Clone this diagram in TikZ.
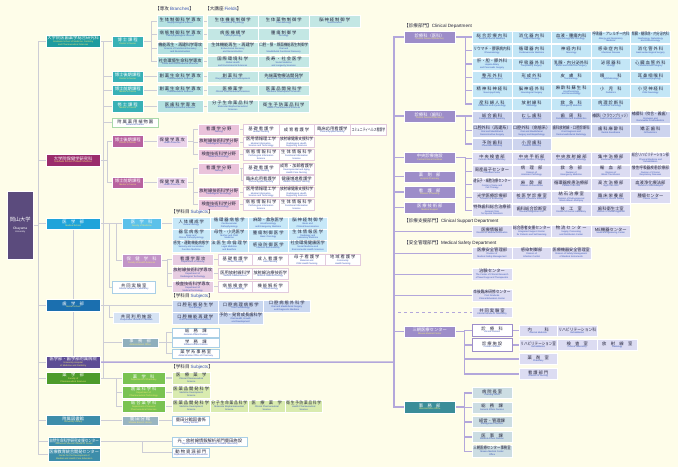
\documentclass[tikz,border=0pt]{standalone}
\usepackage{fontspec}
\usepackage{graphicx}
\setmainfont{Liberation Sans}
\newfontfamily\jpfont{Noto Sans CJK JP}
\usetikzlibrary{backgrounds}

\definecolor{bgc}{HTML}{FEFDE9}
\definecolor{lnc}{HTML}{CDCDD6}
\definecolor{hlc}{HTML}{B3A7DB}
\definecolor{jdark}{HTML}{22223A}
\definecolor{enblue}{HTML}{3452B4}
\definecolor{enyel}{HTML}{F4EC78}
\definecolor{okac}{HTML}{5B4B7D}
\definecolor{gtc}{HTML}{1E9B9F}
\definecolor{gtl}{HTML}{38B1B6}
\definecolor{gtp}{HTML}{B4E1E1}
\definecolor{gtf}{HTML}{C3E7E4}
\definecolor{ghc}{HTML}{9B2C6C}
\definecolor{ghl}{HTML}{B8629F}
\definecolor{ghp}{HTML}{EAD3EA}
\definecolor{gha}{HTML}{EAC3DB}
\definecolor{ghb}{HTML}{E3CBDD}
\definecolor{mdc}{HTML}{1FA3DA}
\definecolor{mdl}{HTML}{5CC1EA}
\definecolor{mdp}{HTML}{C7E8F8}
\definecolor{hsc}{HTML}{C294C8}
\definecolor{hsp}{HTML}{E7CDE2}
\definecolor{dtc}{HTML}{1B6FAF}
\definecolor{dtp}{HTML}{C9D7F0}
\definecolor{dtl}{HTML}{D6E3F4}
\definecolor{adc}{HTML}{8FAFBD}
\definecolor{hpc}{HTML}{5D4D95}
\definecolor{phc}{HTML}{4D9B2B}
\definecolor{phl}{HTML}{7AC351}
\definecolor{php}{HTML}{D9EBAF}
\definecolor{lbc}{HTML}{3D8DAA}
\definecolor{lbl}{HTML}{99B5C1}
\definecolor{wbd}{HTML}{A9CFE6}
\definecolor{bgb}{HTML}{A9D9A9}
\definecolor{cdc}{HTML}{9D8DC9}
\definecolor{cmp}{HTML}{C3E6F6}
\definecolor{cdp}{HTML}{CDD4EE}
\definecolor{ccp}{HTML}{DCDCF2}
\definecolor{aoc}{HTML}{3A8D99}
\definecolor{aop}{HTML}{CCDDE3}

\newsavebox\fitbox
\newlength\fitlen
\newcommand{\fitwidth}[2]{\setlength\fitlen{#1pt}\addtolength\fitlen{-2.4pt}\sbox\fitbox{#2}\ifdim\wd\fitbox>\fitlen\resizebox{\fitlen}{\height}{\usebox\fitbox}\else\usebox\fitbox\fi}
\newcommand{\jpf}{\jpfont\fontsize{4.3}{4.8}\selectfont}
\newcommand{\enf}{\rmfamily\fontsize{2.3}{2.6}\selectfont}
\newcommand{\orgtext}[3]{\fitwidth{#1}{\jpf\color{jcol}#2}\if\relax\detokenize{#3}\relax\else\\\fitwidth{#1}{\enf\color{ecol}\begin{tabular}{@{}c@{}}#3\end{tabular}}\fi}
\newcommand{\orgcell}[7]{\node[#1, minimum width=#4pt, minimum height=#5pt] (#2) at (#3) {\orgtext{#4}{#6}{#7}};}

\tikzset{
  cellbox/.style={anchor=north west, inner sep=0pt, align=center, font=\fontsize{2.3}{3}\selectfont,
    execute at begin node={\colorlet{jcol}{jdark}\colorlet{ecol}{enblue}}},
  palebox/.style={cellbox, fill=#1, draw=white, line width=0.5pt},
  darkbox/.style={cellbox, fill=#1, draw=white, line width=0.4pt,
    execute at begin node={\colorlet{jcol}{white}\colorlet{ecol}{enyel}}},
  whitebox/.style={cellbox, fill=white, draw=#1, line width=0.6pt},
  hdtext/.style={anchor=west, inner sep=0pt, text=jdark, font=\jpfont\fontsize{4.6}{5}\selectfont},
  linkline/.style={draw=lnc, line width=1.2pt},
  hospline/.style={draw=hlc, line width=1.5pt}
}

\begin{document}
\begin{tikzpicture}[x=1pt,y=-1pt]
	\useasboundingbox (0,0) rectangle (678,467);
	\begin{scope}[on background layer]
	\fill[bgc] (0,0) rectangle (678,467);
	\end{scope}

	% university and faculties
	\node[darkbox=okac, minimum width=26pt, minimum height=68pt, execute at begin node={\colorlet{ecol}{white}}] (okadai) at (7,191) {\jpfont\fontsize{5.2}{6}\selectfont\color{jcol}岡山大学\\[5pt]\rmfamily\fontsize{3.3}{4}\selectfont\color{ecol}Okayama\\\color{ecol}University};
	\orgcell{darkbox=gtc}{gsmdp}{46,35}{54}{12}{大学院医歯薬学総合研究科}{Graduate School of Medicine, Dentistry\\and Pharmaceutical Sciences}
	\orgcell{darkbox=ghc}{gshs}{46,154}{54}{12}{大学院保健学研究科}{Graduate School of Health Sciences}
	\orgcell{darkbox=mdc}{med}{46,218}{54}{11}{医　学　部}{Medical School}
	\orgcell{darkbox=dtc}{dent}{46,299}{54}{12}{歯　学　部}{Dental School}
	\orgcell{darkbox=hpc}{hosp}{46,356}{54}{12}{医学部・歯学部附属病院}{University Hospital\\of Medicine and Dentistry}
	\orgcell{darkbox=phc}{pharm}{46,372}{54}{12}{薬　学　部}{Faculty of\\Pharmaceutical Sciences}
	\orgcell{darkbox=lbc}{lib}{46,415}{54}{10}{附属図書館}{University Library}
	\orgcell{darkbox=lbc}{asrc}{48,437}{52}{9}{自然生命科学研究支援センター}{Advanced Science Research Center}
	\orgcell{darkbox=lbc}{cdme}{48,448}{52}{13}{医療教育統合開発センター}{Center for the Development of\\Medical and Health Care Education}

	% graduate school of medicine, dentistry and pharmaceutical sciences
	\node[hdtext] (hdbr) at (155,9) {【専攻 {\rmfamily\color{enblue}Branches}】};
	\node[hdtext] (hdfd) at (205,9) {【大講座 {\rmfamily\color{enblue}Fields}】};
	\orgcell{darkbox=gtl}{dca}{112,36}{31}{11}{博 士 課 程}{Doctor's Course}
	\orgcell{darkbox=gtl}{dcb}{112,71}{31}{11}{博士後期課程}{Doctor's Course}
	\orgcell{darkbox=gtl}{mca}{112,85}{31}{10}{博士前期課程}{Master's Course}
	\orgcell{darkbox=gtl}{mcb}{112,100}{31}{12}{修 士 課 程}{Master's Course}
	\orgcell{whitebox=bgb}{bgdn}{112,118}{46}{9}{附 属 薬 用 植 物 園}{Botanical Garden}
	\orgcell{palebox=gtp}{br1}{157,15}{46}{12}{生 体 制 御 科 学 専 攻}{Biophysiological Science}
	\orgcell{palebox=gtp}{br2}{157,28}{46}{12}{病 態 制 御 科 学 専 攻}{Pathophysiological Science}
	\orgcell{palebox=gtp}{br3}{157,42}{46}{12}{機能再生・再建科学専攻}{Science of Functional Recovery\\and Reconstruction}
	\orgcell{palebox=gtp}{br4}{157,56}{46}{11}{社会環境生命科学専攻}{Social and Environmental Sciences}
	\orgcell{palebox=gtp}{br5}{157,71}{46}{11}{創 薬 生 命 科 学 専 攻}{Pharmaceutical Sciences}
	\orgcell{palebox=gtp}{br6}{157,85}{46}{10}{創 薬 生 命 科 学 専 攻}{Pharmaceutical Sciences}
	\orgcell{palebox=gtp}{br7}{157,100}{46}{12}{医 歯 科 学 専 攻}{Medical and Dental Sciences}
	\orgcell{palebox=gtf}{fa1}{207,15}{51}{12}{生 体 機 能 制 御 学}{Functional Physiology}
	\orgcell{palebox=gtf}{fa2}{258,15}{51}{12}{生 体 薬 物 制 御 学}{Pharmacology}
	\orgcell{palebox=gtf}{fa3}{309,15}{51}{12}{脳 神 経 制 御 学}{Neuroscience}
	\orgcell{palebox=gtf}{fb1}{207,28}{51}{12}{病 態 機 構 学}{Pathophysiology}
	\orgcell{palebox=gtf}{fb2}{258,28}{51}{12}{腫 瘍 制 御 学}{Oncology}
	\orgcell{palebox=gtf}{fc1}{207,42}{51}{12}{生体機能再生・再建学}{Biofunctional Recovery\\and Reconstruction}
	\orgcell{palebox=gtf}{fc2}{258,42}{51}{12}{口腔・顎・顔面機能再生制御学}{Oral and\\Maxillofacial Functional Recovery}
	\orgcell{palebox=gtf}{fd1}{207,56}{51}{11}{国 際 環 境 科 学}{Global Health\\and Environmental Sciences}
	\orgcell{palebox=gtf}{fd2}{258,56}{51}{11}{長 寿 ・ 社 会 医 学}{Social Medicine\\and Longevity Sciences}
	\orgcell{palebox=gtf}{fe1}{207,71}{51}{11}{創 薬 科 学}{Drug Discovery and Development}
	\orgcell{palebox=gtf}{fe2}{258,71}{51}{11}{先端薬物療法開発学}{Advanced Pharmacotherapeutics}
	\orgcell{palebox=gtf}{ff1}{207,85}{51}{10}{医 療 薬 学}{Clinical Pharmaceutical Sciences}
	\orgcell{palebox=gtf}{ff2}{258,85}{51}{10}{医 薬 品 開 発 科 学}{Medicine Development Sciences}
	\orgcell{palebox=gtf}{fg1}{207,100}{51}{12}{分 子 生 命 薬 品 科 学}{Molecular Biopharmaceutical\\Sciences}
	\orgcell{palebox=gtf}{fg2}{258,100}{51}{12}{衛 生 予 防 薬 品 科 学}{Health Pharmaceutical Sciences}

	% graduate school of health sciences
	\orgcell{darkbox=ghl}{dch}{112,135}{31}{12}{博士後期課程}{Doctor's Course}
	\orgcell{darkbox=ghl}{mch}{112,177}{31}{11}{博士前期課程}{Master's Course}
	\orgcell{palebox=ghp}{hsd}{157,135}{30}{12}{保 健 学 専 攻}{Health Sciences}
	\orgcell{palebox=ghp}{hsm}{157,177}{30}{11}{保 健 学 専 攻}{Health Sciences}
	\orgcell{palebox=gha}{ana}{198,124}{41}{11}{看 護 学 分 野}{Nursing}
	\orgcell{palebox=gha}{ara}{198,137}{41}{10}{放射線技術科学分野}{Radiological Technology}
	\orgcell{palebox=gha}{ama}{198,149}{41}{11}{検査技術科学分野}{Medical Technology}
	\orgcell{palebox=gha}{anb}{198,163}{41}{11}{看 護 学 分 野}{Nursing}
	\orgcell{palebox=gha}{arb}{198,187}{41}{10}{放射線技術科学分野}{Radiological Technology}
	\orgcell{palebox=gha}{amb}{198,199}{41}{11}{検査技術科学分野}{Medical Technology}
	\orgcell{whitebox=ghb}{na1}{243,124}{35.5}{11}{基 礎 看 護 学}{Human Nursing}
	\orgcell{whitebox=ghb}{na2}{278.5,124}{35.5}{11}{成 育 看 護 学}{}
	\orgcell{whitebox=ghb}{na3}{314,124}{36}{11}{臨床応用看護学}{Clinical Applied Nursing}
	\orgcell{whitebox=ghb}{na4}{350,124}{36}{11}{コミュニティヘルス看護学}{}
	\orgcell{whitebox=ghb}{ra1}{243,137}{35.5}{10}{医用情報理工学}{Medical Informatics,\\Science and Technology}
	\orgcell{whitebox=ghb}{ra2}{278.5,137}{35.5}{10}{放射線健康支援科学}{Radiological Health\\Supporting Sciences}
	\orgcell{whitebox=ghb}{ma1}{243,149}{35.5}{11}{病 態 情 報 科 学}{Pathological Information\\Science}
	\orgcell{whitebox=ghb}{ma2}{278.5,149}{35.5}{11}{生 体 情 報 科 学}{Functional Information\\Science}
	\orgcell{whitebox=ghb}{nb1}{243,163}{35.5}{11}{基 礎 看 護 学}{Human Nursing}
	\orgcell{whitebox=ghb}{nb2}{278.5,163}{35.5}{11}{成育・加齢看護学}{Developmental and Aging\\Health Care Nursing}
	\orgcell{whitebox=ghb}{nb3}{243,175}{35.5}{10}{臨床応用看護学}{Clinical Applied Nursing}
	\orgcell{whitebox=ghb}{nb4}{278.5,175}{35.5}{10}{健康増進看護学}{Health Promotion Nursing}
	\orgcell{whitebox=ghb}{rb1}{243,187}{35.5}{10}{医用情報理工学}{Medical Informatics,\\Science and Technology}
	\orgcell{whitebox=ghb}{rb2}{278.5,187}{35.5}{10}{放射線健康支援科学}{Radiological Health\\Supporting Sciences}
	\orgcell{whitebox=ghb}{mb1}{243,199}{35.5}{11}{病 態 情 報 科 学}{Pathological Information\\Science}
	\orgcell{whitebox=ghb}{mb2}{278.5,199}{35.5}{11}{生 体 情 報 科 学}{Functional Information\\Science}

	% medical school
	\node[hdtext] (hdms) at (171,212) {【学科目 {\rmfamily\color{enblue}Subjects}】};
	\orgcell{darkbox=mdl}{fom}{122,218}{39}{11}{医　学　科}{Faculty of Medicine}
	\orgcell{darkbox=hsc}{fhs}{122,254}{39}{13}{保　健　学　科}{Faculty of Health Sciences}
	\orgcell{whitebox=wbd}{crla}{112,281}{43}{12}{共 同 実 験 室}{Central Research Laboratory}
	\orgcell{palebox=mdp}{ms11}{172,217}{38}{11.5}{人 体 構 成 学}{Human Biology}
	\orgcell{palebox=mdp}{ms12}{210,217}{38}{11.5}{循 環 器 病 態 学}{Cardiovascular\\Pathophysiology}
	\orgcell{palebox=mdp}{ms13}{248,217}{40}{11.5}{麻酔・救急医学}{Anesthesiology\\and Emergency Medicine}
	\orgcell{palebox=mdp}{ms14}{288,217}{39}{11.5}{脳 神 経 制 御 学}{Basic and\\Clinical Neuroscience}
	\orgcell{palebox=mdp}{ms21}{172,228.5}{38}{11.5}{器 官 病 態 学}{Basic and\\Clinical Pathophysiology}
	\orgcell{palebox=mdp}{ms22}{210,228.5}{38}{11.5}{母性・小児医学}{Mother and Child\\Medicine}
	\orgcell{palebox=mdp}{ms23}{248,228.5}{40}{11.5}{腫 瘍 制 御 医 学}{Basic Oncology}
	\orgcell{palebox=mdp}{ms24}{288,228.5}{39}{11.5}{生 体 情 報 医 学}{Radiology and\\Laboratory Medicine}
	\orgcell{palebox=mdp}{ms31}{172,240}{38}{12}{感覚・運動機能病態学}{Sensory and Locomotive\\Function Medicine}
	\orgcell{palebox=mdp}{ms32}{210,240}{38}{12}{法 医 生 命 倫 理 学}{Legal Medicine\\and Bioethics}
	\orgcell{palebox=mdp}{ms33}{248,240}{40}{12}{感 染 防 御 医 学}{Infection and Immunity}
	\orgcell{palebox=mdp}{ms34}{288,240}{39}{12}{社会環境健康医学}{Social Medicine and\\Environmental Health Sciences}
	\orgcell{palebox=hsp}{hna}{172,254}{41}{11}{看 護 学 専 攻}{Department of Nursing}
	\orgcell{palebox=hsp}{hra}{172,267}{41}{12}{放射線技術科学専攻}{Department of\\Radiological Technology}
	\orgcell{palebox=hsp}{hma}{172,281}{41}{11}{検査技術科学専攻}{Department of\\Medical Technology}
	\orgcell{whitebox=ghb}{hn1}{218,254}{34}{11}{基 礎 看 護 学}{Human Nursing}
	\orgcell{whitebox=ghb}{hn2}{252,254}{36}{11}{成 人 看 護 学}{Adult Nursing}
	\orgcell{whitebox=ghb}{hn3}{288,254}{37}{11}{母 子 看 護 学}{Maternal and\\Child Health Nursing}
	\orgcell{whitebox=ghb}{hn4}{325,254}{35}{11}{地 域 看 護 学}{Community\\Health Nursing}
	\orgcell{whitebox=ghb}{hr1}{218,268}{34}{11}{医用放射線科学}{Medical Radiosciences}
	\orgcell{whitebox=ghb}{hr2}{252,268}{36}{11}{放射線治療技術学}{Medical Radiotechnology}
	\orgcell{whitebox=ghb}{hm1}{218,281}{34}{11}{病 態 検 査 学}{Clinical Pathology}
	\orgcell{whitebox=ghb}{hm2}{252,281}{36}{11}{機 能 解 析 学}{Clinical Biology}

	% dental school
	\node[hdtext] (hdds) at (171,296) {【学科目 {\rmfamily\color{enblue}Subjects}】};
	\orgcell{palebox=dtl}{crf}{113,312}{46}{11}{共 同 利 用 施 設}{Cooperative Research Facilities}
	\orgcell{palebox=dtp}{ds11}{172,300}{46}{12}{口 腔 形 態 発 生 学}{Oral Biology}
	\orgcell{palebox=dtp}{ds12}{218,300}{45}{12}{口 腔 病 理 病 態 学}{Oral Pathobiology}
	\orgcell{palebox=dtp}{ds13}{263,300}{47}{12}{口 腔 病 態 外 科 学}{Oral and Maxillofacial Surgery\\and Diagnostic Medicine}
	\orgcell{palebox=dtp}{ds21}{172,312}{46}{12}{口 腔 機 能 再 建 学}{Oral Functional Reconstruction}
	\orgcell{palebox=dtp}{ds22}{218,312}{45}{12}{予防・発育成長歯科学}{Oral Health, Growth\\and Development}
	\orgcell{darkbox=adc}{admo}{122,338}{36}{8.5}{事　務　部}{Administration Office}
	\orgcell{whitebox=wbd}{gad1}{172,328}{47}{8.5}{総　務　課}{General Affairs Division}
	\orgcell{whitebox=wbd}{sad}{172,338}{47}{9}{学　務　課}{Student Affairs Division}
	\orgcell{whitebox=wbd}{pao}{172,349}{47}{8.5}{薬 学 系 事 務 室}{Administrative Office of Pharmacy}

	% pharmacy, library, centers
	\node[hdtext] (hdps) at (171,367) {【学科目 {\rmfamily\color{enblue}Subjects}】};
	\orgcell{darkbox=phl}{dph}{122,372}{43}{11.5}{薬　学　科}{Department of Pharmacy}
	\orgcell{darkbox=phl}{dpt}{122,386}{43}{12}{創 薬 科 学 科}{Department of\\Pharmaceutical Technology}
	\orgcell{darkbox=phl}{dgp}{122,400}{43}{12}{総 合 薬 学 科}{Department of General\\Pharmaceutical Sciences}
	\orgcell{palebox=php}{ps1}{172,372}{38}{11.5}{医　療　薬　学}{Clinical Pharmaceutical\\Science}
	\orgcell{palebox=php}{ps2}{172,386}{38}{12}{医 薬 品 開 発 科 学}{Medicine Development\\Science}
	\orgcell{palebox=php}{pg1}{172,400}{38}{12}{医 薬 品 開 発 科 学}{Medicine Development\\Science}
	\orgcell{palebox=php}{pg2}{210,400}{38}{12}{分 子 生 命 薬 品 科 学}{Molecular Biopharmaceutical\\Science}
	\orgcell{palebox=php}{pg3}{248,400}{37}{12}{医　療　薬　学}{Clinical Pharmaceutical\\Science}
	\orgcell{palebox=php}{pg4}{285,400}{37}{12}{衛 生 予 防 薬 品 科 学}{Health Pharmaceutical\\Science}
	\orgcell{darkbox=lbl}{sbl}{122,416}{36}{9}{鹿 田 分 館}{Shikata Branch Library}
	\orgcell{whitebox=wbd}{lsec}{172,416}{37}{9}{鹿田分館図書係}{Library Section}
	\orgcell{whitebox=wbd}{drr}{172,437}{75}{9}{光・放射線情報解析部門鹿田施設}{Department of Radiation Research, Shikata Laboratory}
	\orgcell{whitebox=wbd}{dar}{172,448}{37}{9}{動 物 資 源 部 門}{Department of Animal Resources}

	% hospital
	\coordinate (htrunk) at (394,362);
	\node[hdtext] (hdcl) at (404,26) {【診療部門】{\rmfamily Clinical Department}};
	\node[hdtext] (hdsu) at (404,221) {【診療支援部門】{\rmfamily Clinical Support Department}};
	\node[hdtext] (hdsf) at (404,243) {【安全管理部門】{\rmfamily Medical Safety Department}};
	\orgcell{darkbox=cdc}{cdm}{404,31}{51}{12}{診療科（医科）}{Clinical Divisions(Medicine)}
	\orgcell{darkbox=cdc}{cdd}{404,110}{51}{12}{診療科（歯科）}{Clinical Divisions(Dentistry)}
	\orgcell{darkbox=cdc}{ccf}{404,152}{51}{11}{中央診療施設}{Central Clinical Facilities}
	\orgcell{darkbox=cdc}{hph}{404,171}{51}{11}{薬　剤　部}{Hospital Pharmacy}
	\orgcell{darkbox=cdc}{dnu}{404,186}{51}{12}{看　護　部}{Division of Nursing}
	\orgcell{darkbox=cdc}{msu}{404,202}{51}{11}{医 療 技 術 部}{Medical Support}
	\orgcell{darkbox=cdc}{mmc}{404,326}{51}{11}{三朝医療センター}{Misasa Medical Center}
	\orgcell{darkbox=aoc}{aof}{404,401}{51}{12}{事　務　部}{Administration Office}

	\orgcell{palebox=cmp}{cm11}{472,31}{39.6}{12.3}{総 合 診 療 内 科}{General Internal Medicine}
	\orgcell{palebox=cmp}{cm12}{511.6,31}{39.6}{12.3}{消 化 器 内 科}{Gastroenterology}
	\orgcell{palebox=cmp}{cm13}{551.2,31}{39.6}{12.3}{血液・腫瘍内科}{Hematology and Oncology}
	\orgcell{palebox=cmp}{cm14}{590.8,31}{39.6}{12.3}{呼吸器・アレルギー内科}{Allergy and Respiratory\\Medicine}
	\orgcell{palebox=cmp}{cm15}{630.4,31}{39.6}{12.3}{腎臓・糖尿病・内分泌内科}{Nephrology, Diabetology\\and Endocrinology}
	\orgcell{palebox=cmp}{cm21}{472,44.3}{39.6}{12.3}{リウマチ・膠原病内科}{Rheumatology}
	\orgcell{palebox=cmp}{cm22}{511.6,44.3}{39.6}{12.3}{循 環 器 内 科}{Cardiovascular Medicine}
	\orgcell{palebox=cmp}{cm23}{551.2,44.3}{39.6}{12.3}{神 経 内 科}{Neurology}
	\orgcell{palebox=cmp}{cm24}{590.8,44.3}{39.6}{12.3}{感 染 症 内 科}{Infectious Disease}
	\orgcell{palebox=cmp}{cm25}{630.4,44.3}{39.6}{12.3}{消 化 管 外 科}{Gastroenterological Surgery}
	\orgcell{palebox=cmp}{cm31}{472,57.6}{39.6}{12.3}{肝・胆・膵外科}{Hepato-biliary\\and Pancreatic Surgery}
	\orgcell{palebox=cmp}{cm32}{511.6,57.6}{39.6}{12.3}{呼 吸 器 外 科}{Respiratory Surgery}
	\orgcell{palebox=cmp}{cm33}{551.2,57.6}{39.6}{12.3}{乳腺・内分泌外科}{Breast and Endocrine Surgery}
	\orgcell{palebox=cmp}{cm34}{590.8,57.6}{39.6}{12.3}{泌 尿 器 科}{Urology}
	\orgcell{palebox=cmp}{cm35}{630.4,57.6}{39.6}{12.3}{心 臓 血 管 外 科}{Cardiovascular Surgery}
	\orgcell{palebox=cmp}{cm41}{472,70.9}{39.6}{12.3}{整 形 外 科}{Orthopaedic Surgery}
	\orgcell{palebox=cmp}{cm42}{511.6,70.9}{39.6}{12.3}{形 成 外 科}{Plastic Surgery}
	\orgcell{palebox=cmp}{cm43}{551.2,70.9}{39.6}{12.3}{皮　膚　科}{Dermatology}
	\orgcell{palebox=cmp}{cm44}{590.8,70.9}{39.6}{12.3}{眼　　　科}{Ophthalmology}
	\orgcell{palebox=cmp}{cm45}{630.4,70.9}{39.6}{12.3}{耳 鼻 咽 喉 科}{Otorhinolaryngology}
	\orgcell{palebox=cmp}{cm51}{472,84.2}{39.6}{12.3}{精 神 科 神 経 科}{Neuropsychiatry}
	\orgcell{palebox=cmp}{cm52}{511.6,84.2}{39.6}{12.3}{脳 神 経 外 科}{Neurological Surgery}
	\orgcell{palebox=cmp}{cm53}{551.2,84.2}{39.6}{12.3}{麻 酔 科 蘇 生 科}{Anesthesiology\\and Resuscitology}
	\orgcell{palebox=cmp}{cm54}{590.8,84.2}{39.6}{12.3}{小　児　科}{Pediatrics}
	\orgcell{palebox=cmp}{cm55}{630.4,84.2}{39.6}{12.3}{小 児 神 経 科}{Child Neurology}
	\orgcell{palebox=cmp}{cm61}{472,97.5}{39.6}{12.3}{産 科 婦 人 科}{Obstetrics and Gynecology}
	\orgcell{palebox=cmp}{cm62}{511.6,97.5}{39.6}{12.3}{放 射 線 科}{Radiology}
	\orgcell{palebox=cmp}{cm63}{551.2,97.5}{39.6}{12.3}{救　急　科}{Emergency Medicine}
	\orgcell{palebox=cmp}{cm64}{590.8,97.5}{39.6}{12.3}{病 理 診 断 科}{Anatomic Pathology}

	\orgcell{palebox=cdp}{cd11}{472,111}{39.6}{12.3}{総 合 歯 科}{Comprehensive Dentistry}
	\orgcell{palebox=cdp}{cd12}{511.6,111}{39.6}{12.3}{む し 歯 科}{Operative Dentistry}
	\orgcell{palebox=cdp}{cd13}{551.2,111}{39.6}{12.3}{歯　周　科}{Periodontics and Endodontics}
	\orgcell{palebox=cdp}{cd14}{590.8,111}{39.6}{12.3}{補綴科（クラウンブリッジ）}{Fixed Prosthodontics}
	\orgcell{palebox=cdp}{cd15}{630.4,111}{39.6}{12.3}{補綴科（咬合・義歯）}{Occlusion and\\Removable Prosthodontics}
	\orgcell{palebox=cdp}{cd21}{472,124.3}{39.6}{12.3}{口腔外科（再建系）}{Oral and Maxillofacial\\Reconstructive Surgery}
	\orgcell{palebox=cdp}{cd22}{511.6,124.3}{39.6}{12.3}{口腔外科（病態系）}{Oral and Maxillofacial\\Surgery and Biopathology}
	\orgcell{palebox=cdp}{cd23}{551.2,124.3}{39.6}{12.3}{歯科放射線・口腔診断科}{Oral Diagnosis and\\Dentomaxillofacial Radiology}
	\orgcell{palebox=cdp}{cd24}{590.8,124.3}{39.6}{12.3}{歯 科 麻 酔 科}{Dental Anesthesia}
	\orgcell{palebox=cdp}{cd25}{630.4,124.3}{39.6}{12.3}{矯 正 歯 科}{Orthodontics}
	\orgcell{palebox=cdp}{cd31}{472,137.6}{39.6}{12.3}{予 防 歯 科}{Preventive Dentistry}
	\orgcell{palebox=cdp}{cd32}{511.6,137.6}{39.6}{12.3}{小 児 歯 科}{Pediatric Dentistry}

	\orgcell{palebox=ccp}{cc11}{472,152}{39.6}{12.3}{中 央 検 査 部}{Central Clinical Laboratory}
	\orgcell{palebox=ccp}{cc12}{511.6,152}{39.6}{12.3}{中 央 手 術 部}{Central Division of Surgery}
	\orgcell{palebox=ccp}{cc13}{551.2,152}{39.6}{12.3}{中 央 放 射 線 部}{Central Division of Radiology}
	\orgcell{palebox=ccp}{cc14}{590.8,152}{39.6}{12.3}{集 中 治 療 部}{Intensive Care Unit}
	\orgcell{palebox=ccp}{cc15}{630.4,152}{39.6}{12.3}{総合リハビリテーション部}{Physical Medicine and\\Rehabilitation}
	\orgcell{palebox=ccp}{cc21}{472,165}{39.6}{12.3}{周産母子センター}{Perinatal Center}
	\orgcell{palebox=ccp}{cc22}{511.6,165}{39.6}{12.3}{病　理　部}{Division of\\Anatomic Pathology}
	\orgcell{palebox=ccp}{cc23}{551.2,165}{39.6}{12.3}{救　急　部}{Division of\\Emergency Medicine}
	\orgcell{palebox=ccp}{cc24}{590.8,165}{39.6}{12.3}{輸　血　部}{Division of\\Blood Transfusion}
	\orgcell{palebox=ccp}{cc25}{630.4,165}{39.6}{12.3}{慢性呼吸器疾患診療部}{Division of Chronic\\Respiratory Diseases}
	\orgcell{palebox=ccp}{cc31}{472,178}{39.6}{12.3}{遺伝子・細胞治療センター}{Center of Gene and\\Cell Therapy}
	\orgcell{palebox=ccp}{cc32}{511.6,178}{39.6}{12.3}{麻　酔　部}{Division of Anesthesia}
	\orgcell{palebox=ccp}{cc33}{551.2,178}{39.6}{12.3}{循環器疾患治療部}{Cardiac Care Unit}
	\orgcell{palebox=ccp}{cc34}{590.8,178}{39.6}{12.3}{高 次 治 療 部}{High Care Unit}
	\orgcell{palebox=ccp}{cc35}{630.4,178}{39.6}{12.3}{血液浄化療法部}{Division of Hemodialysis}
	\orgcell{palebox=ccp}{cc41}{472,191}{39.6}{12.3}{光学医療診療部}{Division of Endoscopy}
	\orgcell{palebox=ccp}{cc42}{511.6,191}{39.6}{12.3}{核 医 学 診 療 室}{Division of Nuclear Medicine}
	\orgcell{palebox=ccp}{cc43}{551.2,191}{39.6}{12.3}{結 石 治 療 室}{Division of Extracorporeal\\Shock Wave Lithotripsy}
	\orgcell{palebox=ccp}{cc44}{590.8,191}{39.6}{12.3}{臨 床 栄 養 部}{Division of Clinical Dietary}
	\orgcell{palebox=ccp}{cc45}{630.4,191}{39.6}{12.3}{腫瘍センター}{Cancer Center}
	\orgcell{palebox=ccp}{cc51}{472,204}{39.6}{12.3}{特殊歯科総合治療部}{General Clinic\\for Special Disorders}
	\orgcell{palebox=ccp}{cc52}{511.6,204}{39.6}{12.3}{歯科総合診断室}{General Diagnostic Unit}
	\orgcell{palebox=ccp}{cc53}{551.2,204}{39.6}{12.3}{技　工　室}{Division of Dental Laboratory}
	\orgcell{palebox=ccp}{cc54}{590.8,204}{39.6}{12.3}{歯科衛生士室}{Division of Dental Hygienist}

	\orgcell{palebox=ccp}{su1}{472,225}{39.6}{12}{医療情報部}{Division of Medical Informatics}
	\orgcell{palebox=ccp}{su2}{511.6,225}{39.6}{12}{総合患者支援センター}{Integrated Support Center\\for Patients and Self-learning}
	\orgcell{palebox=ccp}{su3}{551.2,225}{39.6}{12}{物 流 セ ン タ ー}{Supply, Processing\\and Distribution Center}
	\orgcell{palebox=ccp}{su4}{590.8,225}{39.6}{12}{ME機器センター}{Medical Engineering Center}
	\orgcell{palebox=ccp}{sf1}{472,247}{39.6}{12}{医療安全管理部}{Division of\\Medical Safety Management}
	\orgcell{palebox=ccp}{sf2}{511.6,247}{39.6}{12}{感染制御部}{Division of\\Infection Control}
	\orgcell{palebox=ccp}{sf3}{551.2,247}{39.6}{12}{医療機器安全管理室}{Division of Safety Management\\of Medical Instruments}
	\orgcell{palebox=ccp}{tk}{472,268}{39.6}{12}{治験センター}{The Center of Clinical Research\\of New Drugs and Therapeutics}
	\orgcell{palebox=ccp}{pgc}{472,289}{39.6}{12}{卒後臨床研修センター}{Post Graduate\\Clinical Education Center}
	\orgcell{palebox=ccp}{crlb}{472,307}{39.6}{10}{共 同 実 験 室}{Central Research Laboratory}

	\orgcell{whitebox=cdc}{mcd}{472,324}{39.6}{12}{診　療　科}{Clinical Division}
	\orgcell{whitebox=cdc}{mcf}{472,338}{39.6}{13}{診 療 施 設}{Clinical Facilities}
	\orgcell{palebox=ccp}{mim}{519,325}{38}{11}{内　　　科}{Internal Medicine}
	\orgcell{palebox=ccp}{mre}{557,325}{40}{11}{リハビリテーション科}{Rehabilitation}
	\orgcell{palebox=ccp}{mrr}{519,339}{38}{11}{リハビリテーション室}{Rehabilitation}
	\orgcell{palebox=ccp}{mcl}{557,339}{40}{11}{検　査　室}{Clinical Laboratory}
	\orgcell{palebox=ccp}{mrd}{597,339}{40}{11}{放　射　線　室}{Radiology}
	\orgcell{palebox=ccp}{mph}{519,353}{38}{11}{薬　剤　室}{Pharmacy}
	\orgcell{palebox=ccp}{mnu}{519,368}{38}{11}{看 護 部 門}{Division of Nursing}

	\orgcell{palebox=aop}{hpo}{472,387}{39.6}{11}{病 院 長 室}{Planning Office}
	\orgcell{palebox=aop}{gad2}{472,402}{39.6}{10.5}{総　務　課}{General Affairs Division}
	\orgcell{palebox=aop}{mgd}{472,416}{39.6}{11}{経営・管理課}{Management Division}
	\orgcell{palebox=aop}{mad}{472,431}{39.6}{11}{医　事　課}{Medical Affairs Division}
	\orgcell{palebox=aop}{mmo}{472,445}{39.6}{12}{三朝医療センター事務室}{Misasa Medical Center\\Office}

	\begin{scope}[on background layer]
	% university trunk
	\draw[linkline] (okadai.east) -- ++(5,0) |- (gsmdp.west);
	\draw[linkline] (okadai.east) -- ++(5,0) |- (gshs.west);
	\draw[linkline] (okadai.east) -- ++(5,0) |- (med.west);
	\draw[linkline] (okadai.east) -- ++(5,0) |- (dent.west);
	\draw[linkline] (okadai.east) -- ++(5,0) |- (hosp.west);
	\draw[linkline] (okadai.east) -- ++(5,0) |- (pharm.west);
	\draw[linkline] (okadai.east) -- ++(5,0) |- (lib.west);
	\draw[linkline] (okadai.east) -- ++(5,0) |- (asrc.west);
	\draw[linkline] (okadai.east) -- ++(5,0) |- (cdme.west);
	% graduate schools
	\draw[linkline] (gsmdp.east) -- ++(3,0) |- (dca.west);
	\draw[linkline] (gsmdp.east) -- ++(3,0) |- (dcb.west);
	\draw[linkline] (gsmdp.east) -- ++(3,0) |- (mca.west);
	\draw[linkline] (gsmdp.east) -- ++(3,0) |- (mcb.west);
	\draw[linkline] (gsmdp.east) -- ++(3,0) |- (admo.west);
	\draw[linkline] (pharm.east) -- ++(3,0) |- (bgdn.west);
	\draw[linkline] (dca.east) -- ++(8,0) |- (br1.west);
	\draw[linkline] (dca.east) -- ++(8,0) |- (br2.west);
	\draw[linkline] (dca.east) -- ++(8,0) |- (br3.west);
	\draw[linkline] (dca.east) -- ++(8,0) |- (br4.west);
	\draw[linkline] (dcb.east) -- (dcb.east -| br5.west);
	\draw[linkline] (mca.east) -- (mca.east -| br6.west);
	\draw[linkline] (mcb.east) -- (mcb.east -| br7.west);
	\draw[linkline] (br1.east) -- (br1.east -| fa1.west);
	\draw[linkline] (br2.east) -- (br2.east -| fb1.west);
	\draw[linkline] (br3.east) -- (br3.east -| fc1.west);
	\draw[linkline] (br4.east) -- (br4.east -| fd1.west);
	\draw[linkline] (br5.east) -- (br5.east -| fe1.west);
	\draw[linkline] (br6.east) -- (br6.east -| ff1.west);
	\draw[linkline] (br7.east) -- (br7.east -| fg1.west);
	\draw[linkline] (gshs.east) -- ++(7,0) |- (dch.west);
	\draw[linkline] (gshs.east) -- ++(7,0) |- (mch.west);
	\draw[linkline] (dch.east) -- (dch.east -| hsd.west);
	\draw[linkline] (mch.east) -- (mch.east -| hsm.west);
	\draw[linkline] (hsd.east) -- ++(6,0) |- (ana.west);
	\draw[linkline] (hsd.east) -- ++(6,0) |- (ara.west);
	\draw[linkline] (hsd.east) -- ++(6,0) |- (ama.west);
	\draw[linkline] (hsm.east) -- ++(6,0) |- (anb.west);
	\draw[linkline] (hsm.east) -- ++(6,0) |- (arb.west);
	\draw[linkline] (hsm.east) -- ++(6,0) |- (amb.west);
	\draw[linkline] (ana.east) -- (ana.east -| na1.west);
	\draw[linkline] (ara.east) -- (ara.east -| ra1.west);
	\draw[linkline] (ama.east) -- (ama.east -| ma1.west);
	\draw[linkline] (anb.east) -- (anb.east -| nb1.west);
	\draw[linkline] (anb.east) -- ++(2,0) |- (nb3.west);
	\draw[linkline] (arb.east) -- (arb.east -| rb1.west);
	\draw[linkline] (amb.east) -- (amb.east -| mb1.west);
	% faculties
	\draw[linkline] (med.south) -- (hosp.north);
	\draw[linkline] (med.east) -- (med.east -| fom.west);
	\draw[linkline] (med.east) -- ++(16,0) |- (fhs.west);
	\draw[linkline] (med.east) -- ++(9,0) |- (crla.west);
	\draw[linkline] (fom.east) -- (fom.east -| ms11.west);
	\draw[linkline] (fhs.east) -- ++(6,0) |- (hna.west);
	\draw[linkline] (fhs.east) -- ++(6,0) |- (hra.west);
	\draw[linkline] (fhs.east) -- ++(6,0) |- (hma.west);
	\draw[linkline] (hna.east) -- (hna.east -| hn1.west);
	\draw[linkline] (hra.east) -- (hra.east -| hr1.west);
	\draw[linkline] (hma.east) -- (hma.east -| hm1.west);
	\draw[linkline] (dent.east) -- (dent.east -| ds11.west);
	\draw[linkline] (dent.east) -- ++(9,0) |- (crf.west);
	\draw[linkline] (admo.east) -- ++(8,0) |- (gad1.west);
	\draw[linkline] (admo.east) -- ++(8,0) |- (sad.west);
	\draw[linkline] (admo.east) -- ++(8,0) |- (pao.west);
	\draw[linkline] (pharm.east) -- (pharm.east -| dph.west);
	\draw[linkline] (pharm.east) -- ++(16,0) |- (dpt.west);
	\draw[linkline] (pharm.east) -- ++(16,0) |- (dgp.west);
	\draw[linkline] (dph.east) -- (dph.east -| ps1.west);
	\draw[linkline] (dpt.east) -- (dpt.east -| ps2.west);
	\draw[linkline] (dgp.east) -- (dgp.east -| pg1.west);
	\draw[linkline] (lib.east) -- (lib.east -| sbl.west);
	\draw[linkline] (sbl.east) -- (sbl.east -| lsec.west);
	\draw[linkline] (asrc.east) -- (asrc.east -| drr.west);
	\draw[linkline] (asrc.east) -- ++(42,0) |- (dar.west);
	% hospital
	\draw[hospline] (hosp.east) -- (htrunk);
	\draw[hospline] (htrunk) |- (cdm.west);
	\draw[hospline] (htrunk) |- (cdd.west);
	\draw[hospline] (htrunk) |- (ccf.west);
	\draw[hospline] (htrunk) |- (hph.west);
	\draw[hospline] (htrunk) |- (dnu.west);
	\draw[hospline] (htrunk) |- (msu.west);
	\draw[hospline] (htrunk) |- (su1.west);
	\draw[hospline] (htrunk) |- (sf1.west);
	\draw[hospline] (htrunk) |- (tk.west);
	\draw[hospline] (htrunk) |- (pgc.west);
	\draw[hospline, line width=0.8pt, dashed] (htrunk) |- (crlb.west);
	\draw[hospline] (htrunk) |- (mmc.west);
	\draw[hospline] (htrunk) |- (aof.west);
	\draw[hospline] (cdm.east) -- (cdm.east -| cm11.west);
	\draw[hospline] (cdm.east) -- ++(10,0) |- (cm21.west);
	\draw[hospline] (cdm.east) -- ++(10,0) |- (cm31.west);
	\draw[hospline] (cdm.east) -- ++(10,0) |- (cm41.west);
	\draw[hospline] (cdm.east) -- ++(10,0) |- (cm51.west);
	\draw[hospline] (cdm.east) -- ++(10,0) |- (cm61.west);
	\draw[hospline] (cdd.east) -- (cdd.east -| cd11.west);
	\draw[hospline] (cdd.east) -- ++(10,0) |- (cd21.west);
	\draw[hospline] (cdd.east) -- ++(10,0) |- (cd31.west);
	\draw[hospline] (ccf.east) -- ++(10,0) |- (cc11.west);
	\draw[hospline] (ccf.east) -- ++(10,0) |- (cc21.west);
	\draw[hospline] (ccf.east) -- ++(10,0) |- (cc31.west);
	\draw[hospline] (ccf.east) -- ++(10,0) |- (cc41.west);
	\draw[hospline] (ccf.east) -- ++(10,0) |- (cc51.west);
	\draw[hospline] (mmc.east) -- ++(9,0) |- (mcd.west);
	\draw[hospline] (mmc.east) -- ++(9,0) |- (mcf.west);
	\draw[hospline] (mmc.east) -- ++(9,0) |- (mph.west);
	\draw[hospline] (mmc.east) -- ++(9,0) |- (mnu.west);
	\draw[hospline] (mcd.east) -- (mcd.east -| mim.west);
	\draw[hospline] (mcf.east) -- (mcf.east -| mrr.west);
	\draw[hospline] (aof.east) -- ++(9,0) |- (hpo.west);
	\draw[hospline] (aof.east) -- ++(9,0) |- (gad2.west);
	\draw[hospline] (aof.east) -- ++(9,0) |- (mgd.west);
	\draw[hospline] (aof.east) -- ++(9,0) |- (mad.west);
	\draw[hospline] (aof.east) -- ++(9,0) |- (mmo.west);
	\end{scope}
\end{tikzpicture}
\end{document}
